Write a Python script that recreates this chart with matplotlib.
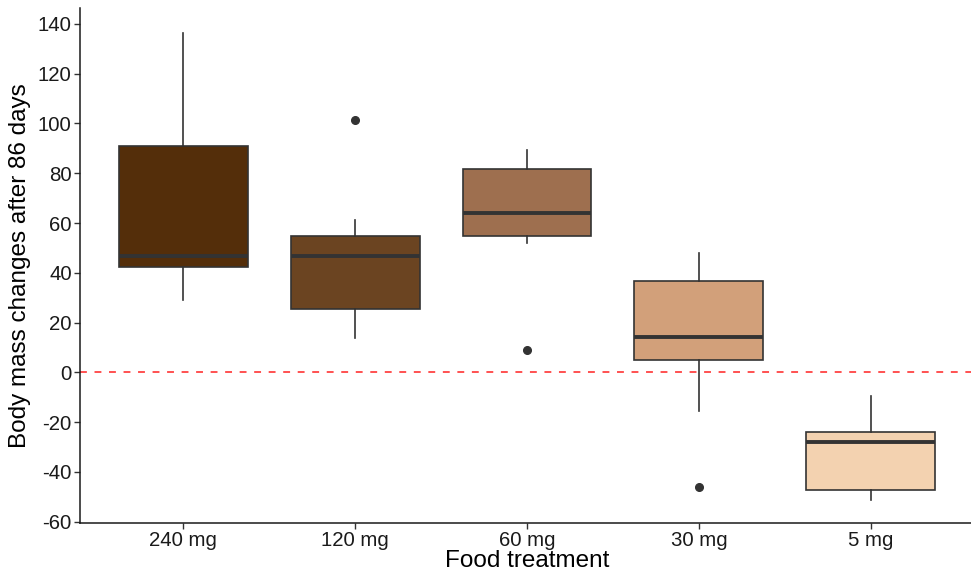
import matplotlib.pyplot as plt

# box statistics
treatments = ["240 mg", "120 mg", "60 mg", "30 mg", "5 mg"]
whisker_low = [28.9, 14.0, 51.8, -15.5, -51.1]
q1 = [42.2, 25.3, 54.6, 4.8, -47.1]
medians = [46.6, 46.8, 63.9, 14.2, -27.8]
q3 = [90.8, 54.8, 81.9, 36.9, -24.1]
whisker_high = [136.5, 61.4, 89.2, 47.8, -9.5]
outliers = [[], [101.4], [8.8], [-46.0], []]
fills = ["#542E0A", "#6B4421", "#9E6F4F", "#D2A07A", "#F3D2B0"]

plt.rcParams['font.family'] = ['Liberation Sans', 'DejaVu Sans']
plt.rcParams['axes.unicode_minus'] = False

fig = plt.figure(figsize=(9.71, 5.76), dpi=100)
ax = fig.add_axes([0.0824, 0.0925, 0.9207, 0.8936])

stats = []
for i, name in enumerate(treatments):
    stats.append({
        "label": name,
        "whislo": whisker_low[i],
        "q1": q1[i],
        "med": medians[i],
        "q3": q3[i],
        "whishi": whisker_high[i],
        "fliers": outliers[i],
    })

edge = "#333333"
bp = ax.bxp(stats, positions=range(1, len(treatments) + 1), widths=0.75,
            patch_artist=True, showcaps=False,
            boxprops=dict(edgecolor=edge, linewidth=1.2),
            whiskerprops=dict(color=edge, linewidth=1.2),
            medianprops=dict(color=edge, linewidth=2.8, solid_capstyle='butt'),
            flierprops=dict(marker='o', markerfacecolor=edge, markeredgecolor=edge,
                            markersize=5.5, linestyle='none'),
            zorder=3)
for patch, c in zip(bp['boxes'], fills):
    patch.set_facecolor(c)

# reference line at zero
ax.axhline(0, color="#FF2222", linewidth=1.1, linestyle=(0, (4.5, 5)), zorder=2)

ax.set_xlim(0.4, 5.6)
ax.set_ylim(-60.4, 146.4)
ax.set_yticks(range(-60, 141, 20))

for side in ["top", "right"]:
    ax.spines[side].set_visible(False)
for side in ["left", "bottom"]:
    ax.spines[side].set_linewidth(1.1)
    ax.spines[side].set_color("#1a1a1a")

ax.tick_params(axis='both', length=4, width=1.0, color=edge, labelsize=14.7,
               labelcolor="#1a1a1a", pad=2)

ax.set_xlabel("Food treatment", fontsize=17.5, labelpad=0, color="black")
ax.set_ylabel("Body mass changes after 86 days", fontsize=17.5, labelpad=5, color="black")

fig.savefig("out.png", dpi=100)
